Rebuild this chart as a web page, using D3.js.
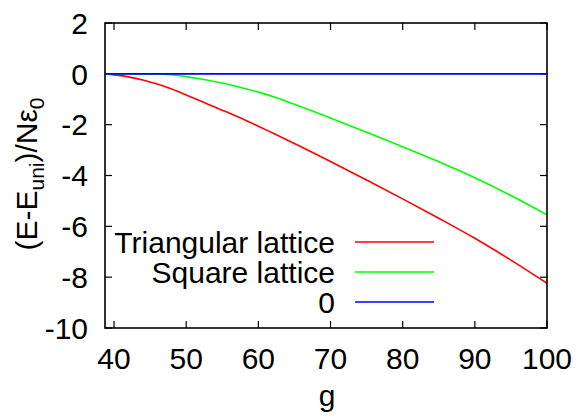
<!DOCTYPE html>
<html>
<head>
<meta charset="utf-8">
<script src="https://cdn.jsdelivr.net/npm/d3@7"></script>
<style>
  body { margin: 0; background: #fff; }
  svg text { font-family: "Liberation Sans", Arial, sans-serif; fill: #000; }
</style>
</head>
<body>
<svg id="chart"></svg>
<script>
// values
const gValues = [38.75, 40, 42, 44, 46, 48, 50, 52, 55, 58, 60, 62, 65, 70, 75, 80, 85, 90, 95, 100]
const triangular = [0, -0.04, -0.12, -0.24, -0.4, -0.6, -0.83, -1.07, -1.43, -1.8, -2.06, -2.33, -2.74, -3.45, -4.18, -4.92, -5.68, -6.47, -7.33, -8.24]
const square = [0, 0, 0, 0, 0, -0.03, -0.11, -0.2, -0.36, -0.57, -0.72, -0.89, -1.2, -1.74, -2.3, -2.87, -3.46, -4.09, -4.79, -5.55]
const zero = [0, 0, 0, 0, 0, 0, 0, 0, 0, 0, 0, 0, 0, 0, 0, 0, 0, 0, 0, 0]
const seriesNames = ["Triangular lattice", "Square lattice", "0"]
const seriesColors = ["#ff0000", "#00ff00", "#0000ff"]
const xTicks = [40, 50, 60, 70, 80, 90, 100]
const yTicks = [2, 0, -2, -4, -6, -8, -10]

const W = 577, H = 419
const margin = {left: 105, right: 30, top: 23, bottom: 91}
const fontSize = 30

const svg = d3.select('#chart').attr('width', W).attr('height', H)

const x = d3.scaleLinear().domain([38.75, 100]).range([margin.left, W - margin.right])
const y = d3.scaleLinear().domain([-10, 2]).range([H - margin.bottom, margin.top])

const x0 = x.range()[0], x1 = x.range()[1]
const y0 = y.range()[0], y1 = y.range()[1]
const tickLen = 7

// ticks, mirrored on all four sides like gnuplot
const tickG = svg.append('g').attr('stroke', '#000').attr('stroke-width', 1.2)
xTicks.forEach(v => {
  tickG.append('line').attr('x1', x(v)).attr('x2', x(v)).attr('y1', y0).attr('y2', y0 - tickLen)
  tickG.append('line').attr('x1', x(v)).attr('x2', x(v)).attr('y1', y1).attr('y2', y1 + tickLen)
})
yTicks.forEach(v => {
  tickG.append('line').attr('x1', x0).attr('x2', x0 + tickLen).attr('y1', y(v)).attr('y2', y(v))
  tickG.append('line').attr('x1', x1).attr('x2', x1 - tickLen).attr('y1', y(v)).attr('y2', y(v))
})

// tick labels
svg.append('g').selectAll('text').data(xTicks).join('text')
  .attr('x', d => x(d)).attr('y', 369)
  .attr('text-anchor', 'middle')
  .style('font-size', fontSize + 'px')
  .text(d => d)

svg.append('g').selectAll('text').data(yTicks).join('text')
  .attr('x', 88).attr('y', d => y(d))
  .attr('text-anchor', 'end').attr('dy', '0.36em')
  .style('font-size', fontSize + 'px')
  .text(d => d)

// lines
const series = [triangular, square, zero]
const line = d3.line().curve(d3.curveMonotoneX).x(d => x(d[0])).y(d => y(d[1]))
svg.append('defs').append('clipPath').attr('id', 'clip')
  .append('rect').attr('x', x0).attr('y', y1).attr('width', x1 - x0).attr('height', y0 - y1)

const lineG = svg.append('g').attr('clip-path', 'url(#clip)')
series.forEach((vals, i) => {
  lineG.append('path')
    .datum(gValues.map((g, j) => [g, vals[j]]))
    .attr('d', line)
    .attr('fill', 'none')
    .attr('stroke', seriesColors[i])
    .attr('stroke-width', 1.6)
})

// frame
svg.append('rect')
  .attr('x', x0).attr('y', y1).attr('width', x1 - x0).attr('height', y0 - y1)
  .attr('fill', 'none').attr('stroke', '#000').attr('stroke-width', 1.6)

// legend
const legend = svg.append('g').selectAll('g').data(seriesNames).join('g')
  .attr('transform', (d, i) => `translate(0,${242 + i * 30})`)
legend.append('text')
  .attr('x', 335).attr('dy', '0.36em').attr('text-anchor', 'end')
  .style('font-size', fontSize + 'px')
  .text(d => d)
legend.append('line')
  .attr('x1', 355).attr('x2', 434).attr('y1', 0).attr('y2', 0)
  .attr('stroke', (d, i) => seriesColors[i]).attr('stroke-width', 1.6)

// axis titles
svg.append('text')
  .attr('x', 327).attr('y', 406).attr('text-anchor', 'middle')
  .style('font-size', fontSize + 'px')
  .text('g')

const yLabel = svg.append('text')
  .attr('transform', 'translate(37,174) rotate(-90)')
  .attr('text-anchor', 'middle')
  .style('font-size', fontSize + 'px')
yLabel.append('tspan').text('(E-E')
yLabel.append('tspan').attr('dy', 7).style('font-size', '21px').text('uni')
yLabel.append('tspan').attr('dy', -7).text(')/N\u03b5')
yLabel.append('tspan').attr('dy', 7).style('font-size', '21px').text('0')
</script>
</body>
</html>
